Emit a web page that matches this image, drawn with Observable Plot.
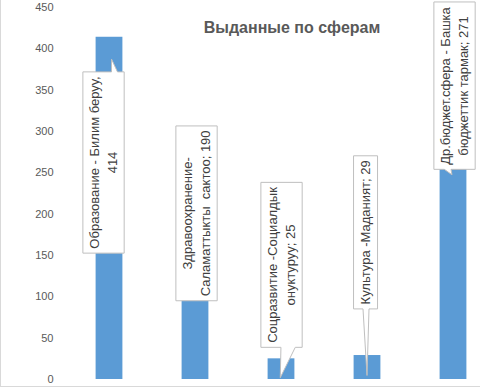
<!DOCTYPE html>
<html><head><meta charset="utf-8">
<script src="https://cdn.jsdelivr.net/npm/d3@7"></script>
<script src="https://cdn.jsdelivr.net/npm/@observablehq/plot@0.6"></script>
<style>
body{margin:0;background:#fff;}
#wrap{position:relative;width:480px;height:387px;overflow:hidden;}
#border{position:absolute;left:0;top:-2px;width:490px;height:389px;box-sizing:border-box;border:1px solid #d9d9d9;pointer-events:none;}
</style></head><body><div id="wrap"><div id="border"></div></div>
<script>
const title = "Выданные по сферам";
const categories = ["Образование","Здравоохранение","Соцразвитие","Культура","Др.бюджет.сфера"];
const values = [414, 190, 25, 29, 271];
const labelTexts = [
  "Образование - Билим беруу,\n414",
  "Здравоохранение-\nСаламаттыкты  сактоо; 190",
  "Соцразвитие -Социалдык\nонуктуруу; 25",
  "Культура -Маданият; 29",
  "Др.бюджет.сфера - Башка\nбюджеттик тармак; 271"
];
const yTicks = [0, 50, 100, 150, 200, 250, 300, 350, 400, 450];
// callout placement (in data units of the y scale, px shifts along x)
const labelAt = [262.5, 201, 138.5, 178, 355];
const labelShift = [-7, 0, -1, -3, 0];
const tipValue = [387, null, 1.5, 4.2, 247];
const tipShift = [2.5, 0, -0.75, 0, -1];
const baseFrom = [0, 0, 0.7, -4, -7.7];
const baseTo = [6, 0, 15, 2, -1];

const data = categories.map((c, i) => ({cat: c, value: values[i], label: labelTexts[i], at: labelAt[i]}));

const W = 480, H = 387;
const chart = Plot.plot({
  width: W, height: H,
  marginLeft: 63, marginRight: 0, marginTop: 7, marginBottom: 8,
  style: {background: "#fff", fontFamily: "Liberation Sans, Arial, sans-serif"},
  x: {domain: categories, range: [65.4, 496.6], padding: 0, axis: null},
  y: {domain: [0, 450]},
  marks: [
    Plot.gridY(yTicks, {stroke: "#d9d9d9", strokeOpacity: 1, x1: 63, x2: W}),
    Plot.axisY(yTicks, {tickSize: 0, tickPadding: 10, fill: "#595959", fontSize: 11, label: null}),
    Plot.barY(data, {x: "cat", y: "value", fill: "#5b9bd5", insetLeft: 29.6, insetRight: 29.6}),
    ...data.map((d, i) => Plot.text([d], {
      x: "cat", y: "at", text: "label", rotate: -90, dx: labelShift[i],
      fontSize: 13, lineHeight: 1.33, fill: "#404040", textAnchor: "middle", lineAnchor: "middle"
    })),
    Plot.text([title], {frameAnchor: "top", text: d => d, dx: 20, dy: 14,
      fontSize: 16, fontWeight: "bold", fill: "#595959"})
  ]
});
document.getElementById("wrap").prepend(chart);

// draw callout boxes behind the label texts
const NS = "http://www.w3.org/2000/svg";
const xs = chart.scale("x"), ys = chart.scale("y");
const svgRect = chart.getBoundingClientRect();
const labelNodes = Array.from(chart.querySelectorAll("text"))
  .filter(t => (t.getAttribute("transform") || "").includes("rotate"));
const boxLayer = document.createElementNS(NS, "g");
const firstLabelGroup = labelNodes[0].parentNode;
firstLabelGroup.parentNode.insertBefore(boxLayer, firstLabelGroup);
labelNodes.forEach((t, i) => {
  const r = t.getBoundingClientRect();
  const padX = 4.5, padY = 4.5;
  const L = r.left - svgRect.left - padX, R = r.right - svgRect.left + padX;
  const T = r.top - svgRect.top - padY, B = r.bottom - svgRect.top + padY;
  let p = `M${L},${T}`;
  const tv = tipValue[i];
  let tx, ty;
  if (tv != null) {
    tx = xs.apply(categories[i]) + xs.bandwidth / 2 + tipShift[i];
    ty = ys.apply(tv);
  }
  if (tv != null && ty < T) {
    p += `L${tx + baseFrom[i]},${T}L${tx},${ty}L${tx + baseTo[i]},${T}`;
  }
  p += `L${R},${T}L${R},${B}`;
  if (tv != null && ty > B) {
    p += `L${tx + baseTo[i]},${B}L${tx},${ty}L${tx + baseFrom[i]},${B}`;
  }
  p += `L${L},${B}Z`;
  const path = document.createElementNS(NS, "path");
  path.setAttribute("d", p);
  path.setAttribute("fill", "#fff");
  path.setAttribute("stroke", "#bfbfbf");
  path.setAttribute("stroke-width", "1");
  boxLayer.appendChild(path);
});
</script></body></html>
